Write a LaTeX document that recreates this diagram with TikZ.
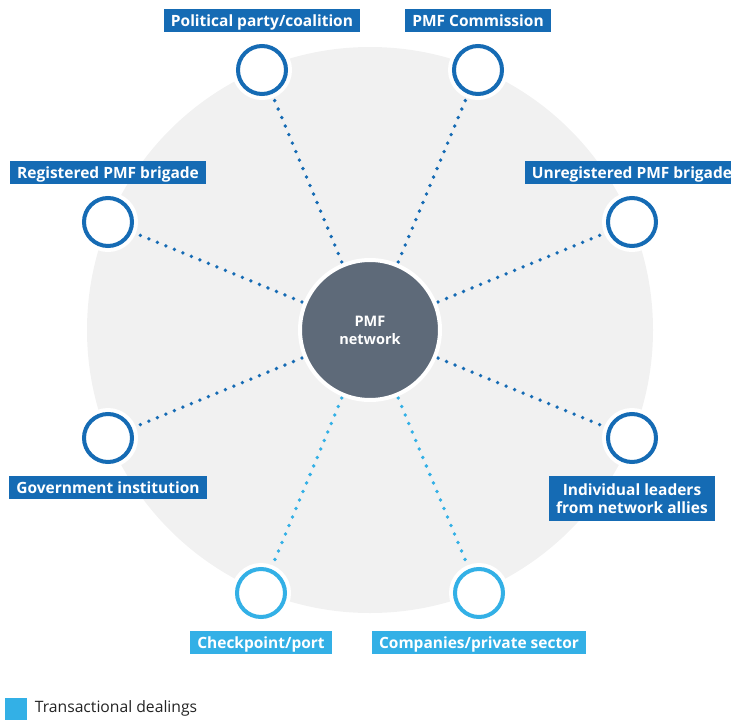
\documentclass[tikz,border=0pt]{standalone}
\usepackage{fontspec}
\setmainfont{Open Sans}
\usetikzlibrary{positioning}
\definecolor{pmfblue}{RGB}{21,107,180}
\definecolor{pmflight}{RGB}{51,176,230}
\definecolor{pmfgrey}{RGB}{94,106,121}
\definecolor{pmfbg}{RGB}{241,241,241}
\definecolor{pmftext}{RGB}{35,35,35}
\pgfdeclarelayer{backdrop}
\pgfdeclarelayer{links}
\pgfsetlayers{backdrop,links,main}

\begin{document}
\begin{tikzpicture}[x=1pt,y=-1pt,
    actor/.style={circle,minimum size=48pt,inner sep=0pt,line width=4pt,fill=white,draw=#1,
      preaction={draw=white,line width=12pt}},
    tag/.style={fill=#1,text=white,font=\bfseries\fontsize{15.5}{18}\selectfont,
      inner xsep=7pt,inner ysep=5pt,align=center},
    oneline/.style={text height=12.5pt,text depth=0pt},
    link/.style={draw=#1,line width=3.8pt,line cap=round,dash pattern=on 0pt off 9.2pt},
    node distance=12pt]
  \useasboundingbox (0,0) rectangle (731,720);

  % Drawing hub
  \node[circle,minimum size=140pt,inner sep=0pt,fill=pmfgrey,draw=white,line width=4pt,
    text=white,align=center,font=\bfseries\fontsize{14.5}{18}\selectfont] (hub) at (370,330) {PMF\\network};

  % Drawing background disc
  \begin{pgfonlayer}{backdrop}
    \fill[pmfbg] (hub.center) circle (283pt);
  \end{pgfonlayer}

  % Drawing actors
  \node[actor=pmfblue] (party) at (262,70) {};
  \node[actor=pmfblue] (commission) at (478,70) {};
  \node[actor=pmfblue] (registered) at (108,222) {};
  \node[actor=pmfblue] (unregistered) at (632,222) {};
  \node[actor=pmfblue] (government) at (108,438) {};
  \node[actor=pmfblue] (leaders) at (632,438) {};
  \node[actor=pmflight] (checkpoint) at (261,593) {};
  \node[actor=pmflight] (companies) at (479,593) {};

  % Marking labels
  \node[tag=pmfblue,oneline,above=of party] {Political party/coalition};
  \node[tag=pmfblue,oneline,above=of commission] {PMF Commission};
  \node[tag=pmfblue,oneline,above=of registered] {Registered PMF brigade};
  \node[tag=pmfblue,oneline,above=of unregistered] {Unregistered PMF brigade};
  \node[tag=pmfblue,oneline,below=of government] {Government institution};
  \node[tag=pmfblue,below=of leaders,inner ysep=7.5pt] {Individual leaders\\from network allies};
  \node[tag=pmflight,oneline,below=of checkpoint] {Checkpoint/port};
  \node[tag=pmflight,oneline,below=of companies] {Companies/private sector};

  % Drawing links
  \begin{pgfonlayer}{links}
    \foreach \n in {party,commission,registered,unregistered,government,leaders}
      \draw[link=pmfblue] (hub.center) -- (\n.center);
    \foreach \n in {checkpoint,companies}
      \draw[link=pmflight] (hub.center) -- (\n.center);
  \end{pgfonlayer}

  % Legend
  \node[fill=pmflight,minimum size=22pt,inner sep=0pt] (key) at (15.5,708.5) {};
  \node[right=8pt of key,inner sep=0pt,text=pmftext,font=\fontsize{15.7}{18}\selectfont] (keytext) {Transactional dealings};
\end{tikzpicture}
\end{document}
